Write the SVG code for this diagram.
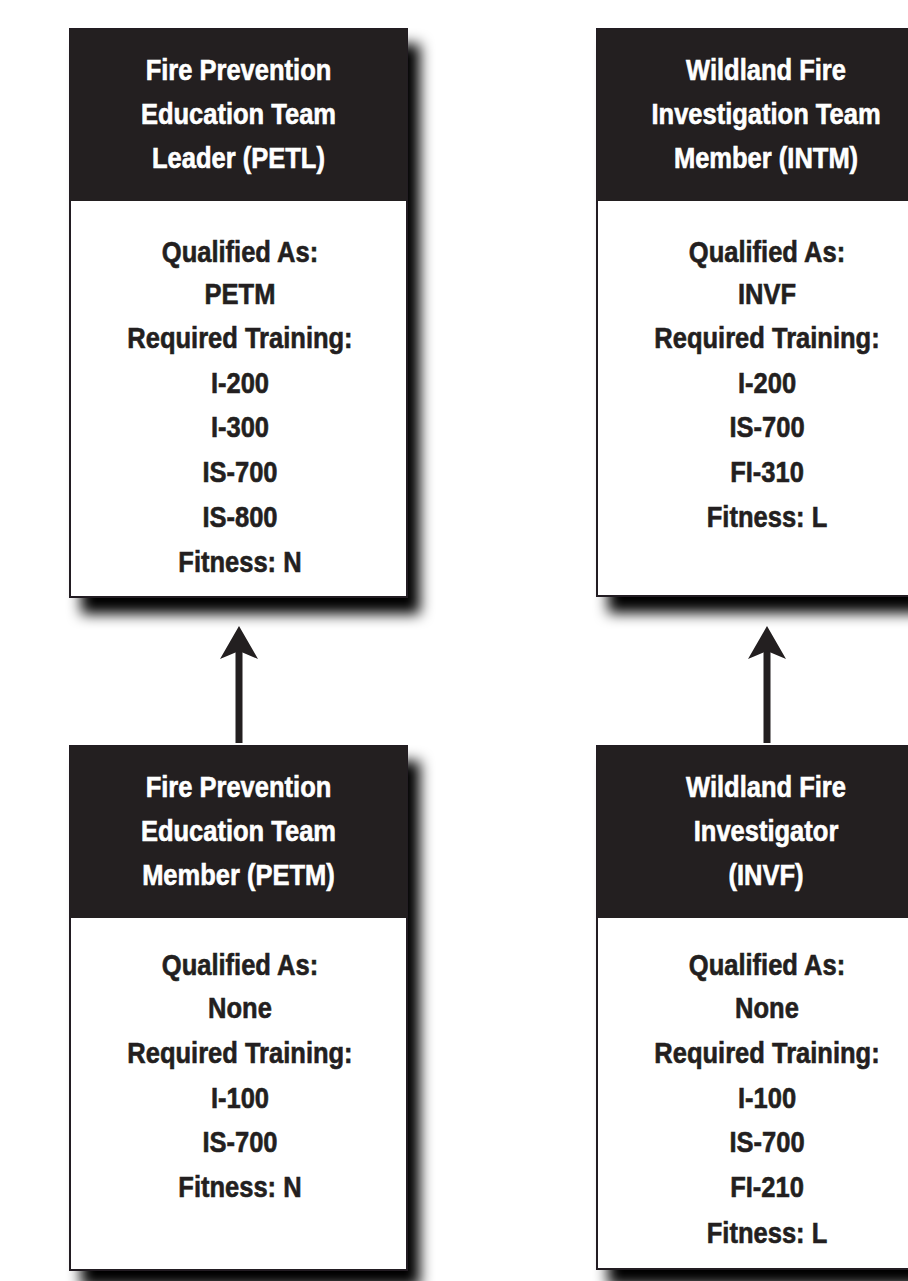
<svg xmlns="http://www.w3.org/2000/svg" width="908" height="1281" viewBox="0 0 908 1281">
<style>
.box{fill:#fff;stroke:#231f20;stroke-width:2}
.hdr{fill:#231f20}
text{font-family:"Liberation Sans",Arial,sans-serif;font-weight:bold;font-size:29px;text-anchor:middle;stroke-width:0.6px}
.h{fill:#fff;stroke:#fff}
.b{fill:#231f20;stroke:#231f20}
.conn{fill:#231f20}
</style>
<defs>
<filter id="sh" x="-20%" y="-20%" width="150%" height="150%">
<feGaussianBlur in="SourceAlpha" stdDeviation="7"/>
<feOffset dx="12" dy="16" result="o"/>
<feComponentTransfer><feFuncA type="linear" slope="1"/></feComponentTransfer>
<feMerge><feMergeNode/><feMergeNode in="SourceGraphic"/></feMerge>
</filter>
</defs>
<rect width="908" height="1281" fill="#fff"/>

<g id="connectors">
<rect class="conn" x="235.5" y="650" width="7" height="93"/>
<path class="conn" d="M239 626 L258 659 L239 651 L220 659 Z"/>
<rect class="conn" x="763.5" y="650" width="7" height="93"/>
<path class="conn" d="M767 626 L786 659 L767 651 L748 659 Z"/>
</g>

<g id="node-petl">
<g filter="url(#sh)">
<rect class="box" x="70" y="29" width="337" height="568"/>
</g>
<rect class="hdr" x="70" y="29" width="337" height="172"/>
<g transform="scale(0.88,1)">
<text class="h" x="271" y="80">Fire Prevention</text>
<text class="h" x="271" y="124">Education Team</text>
<text class="h" x="271" y="168">Leader (PETL)</text>
<text class="b" x="272.7" y="262">Qualified As:</text>
<text class="b" x="272.7" y="304">PETM</text>
<text class="b" x="272.7" y="348">Required Training:</text>
<text class="b" x="272.7" y="393">I-200</text>
<text class="b" x="272.7" y="437">I-300</text>
<text class="b" x="272.7" y="482">IS-700</text>
<text class="b" x="272.7" y="527">IS-800</text>
<text class="b" x="272.7" y="572">Fitness: N</text>
</g>
</g>

<g id="node-intm">
<g filter="url(#sh)">
<rect class="box" x="597" y="29" width="337" height="567"/>
</g>
<rect class="hdr" x="597" y="29" width="337" height="172"/>
<g transform="scale(0.88,1)">
<text class="h" x="870.5" y="80">Wildland Fire</text>
<text class="h" x="870.5" y="124">Investigation Team</text>
<text class="h" x="870.5" y="168">Member (INTM)</text>
<text class="b" x="871.6" y="262">Qualified As:</text>
<text class="b" x="871.6" y="304">INVF</text>
<text class="b" x="871.6" y="348">Required Training:</text>
<text class="b" x="871.6" y="393">I-200</text>
<text class="b" x="871.6" y="437">IS-700</text>
<text class="b" x="871.6" y="482">FI-310</text>
<text class="b" x="871.6" y="527">Fitness: L</text>
</g>
</g>

<g id="node-petm">
<g filter="url(#sh)">
<rect class="box" x="70" y="746" width="337" height="524"/>
</g>
<rect class="hdr" x="70" y="746" width="337" height="172"/>
<g transform="scale(0.88,1)">
<text class="h" x="271" y="797">Fire Prevention</text>
<text class="h" x="271" y="841">Education Team</text>
<text class="h" x="271" y="885">Member (PETM)</text>
<text class="b" x="272.7" y="975">Qualified As:</text>
<text class="b" x="272.7" y="1018">None</text>
<text class="b" x="272.7" y="1063">Required Training:</text>
<text class="b" x="272.7" y="1108">I-100</text>
<text class="b" x="272.7" y="1152">IS-700</text>
<text class="b" x="272.7" y="1197">Fitness: N</text>
</g>
</g>

<g id="node-invf">
<g filter="url(#sh)">
<rect class="box" x="597" y="746" width="337" height="523"/>
</g>
<rect class="hdr" x="597" y="746" width="337" height="172"/>
<g transform="scale(0.88,1)">
<text class="h" x="870.5" y="797">Wildland Fire</text>
<text class="h" x="870.5" y="841">Investigator</text>
<text class="h" x="870.5" y="885">(INVF)</text>
<text class="b" x="871.6" y="975">Qualified As:</text>
<text class="b" x="871.6" y="1018">None</text>
<text class="b" x="871.6" y="1063">Required Training:</text>
<text class="b" x="871.6" y="1108">I-100</text>
<text class="b" x="871.6" y="1152">IS-700</text>
<text class="b" x="871.6" y="1197">FI-210</text>
<text class="b" x="871.6" y="1243">Fitness: L</text>
</g>
</g>
</svg>
